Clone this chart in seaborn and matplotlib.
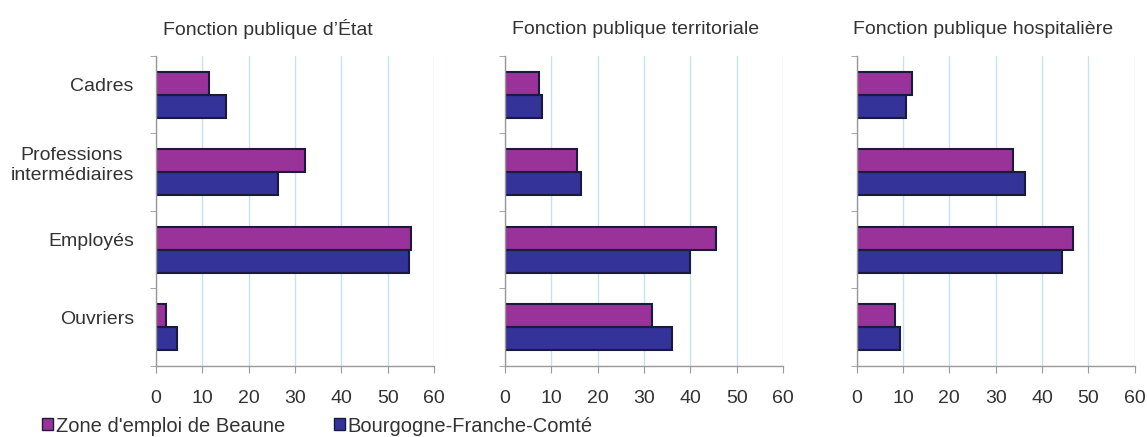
import matplotlib
matplotlib.use("Agg")
import matplotlib.pyplot as plt
from matplotlib.patches import Patch
from matplotlib.transforms import ScaledTranslation
import pandas as pd
import seaborn as sns

categories = ["Cadres", "Professions\nintermédiaires", "Employés", "Ouvriers"]
panels = ["Fonction publique d\u2019État", "Fonction publique territoriale",
          "Fonction publique hospitalière"]
series = ["Zone d'emploi de Beaune", "Bourgogne-Franche-Comté"]

# values in %, one list per panel: [Beaune], [BFC]
etat_beaune = [11.4, 32.1, 55.1, 2.1]
etat_bfc = [15.1, 26.3, 54.7, 4.6]
terr_beaune = [7.4, 15.6, 45.5, 31.8]
terr_bfc = [7.9, 16.3, 40.0, 36.1]
hosp_beaune = [11.9, 33.8, 46.7, 8.3]
hosp_bfc = [10.6, 36.3, 44.4, 9.4]

colors = ["#993399", "#333399"]
xticks = [0, 10, 20, 30, 40, 50, 60]

sns.set_style("white")
plt.rcParams["font.family"] = ["Liberation Sans", "DejaVu Sans"]

fig = plt.figure(figsize=(11.47, 4.37), dpi=100)

data = [(etat_beaune, etat_bfc), (terr_beaune, terr_bfc), (hosp_beaune, hosp_bfc)]
lefts = [0.136, 0.4403, 0.7469]
title_dx = [0.025, 0.025, -0.015]

for i, (title, (beaune, bfc)) in enumerate(zip(panels, data)):
    ax = fig.add_axes([lefts[i], 0.1625, 0.2424, 0.7094])
    df = pd.DataFrame({
        "cat": categories * 2,
        "val": beaune + bfc,
        "serie": [series[0]] * 4 + [series[1]] * 4,
    })
    sns.barplot(data=df, y="cat", x="val", hue="serie", order=categories,
                hue_order=series, palette=colors, saturation=1, orient="h",
                width=0.59, edgecolor="#1a1a3a", linewidth=1.5, ax=ax,
                legend=False)
    ax.set_xlim(0, 60)
    ax.set_ylim(3.5, -0.5)
    ax.set_xticks(xticks)
    ax.set_xticklabels([str(t) for t in xticks], fontsize=14, color="#333333")
    ax.xaxis.grid(True, color="#c8e3ec", linewidth=1)
    ax.set_axisbelow(True)
    ax.set_xlabel("")
    ax.set_ylabel("")
    for s in ["top", "right"]:
        ax.spines[s].set_visible(False)
    for s in ["left", "bottom"]:
        ax.spines[s].set_color("#999999")
        ax.spines[s].set_linewidth(1)
    ax.tick_params(axis="x", length=5, color="#999999", pad=12, bottom=True)
    ax.set_yticks([-0.5, 0.5, 1.5, 2.5, 3.5], minor=True)
    ax.tick_params(axis="y", which="minor", length=4, color="#999999", left=True)
    ax.tick_params(axis="y", which="major", length=0, pad=16)
    if i == 0:
        ax.set_yticks(range(4))
        ax.set_yticklabels(categories, fontsize=14, color="#333333",
                           multialignment="center")
        # labels sit a little above the middle of each group
        shift = ScaledTranslation(0, 0.10, fig.dpi_scale_trans)
        for lab in ax.get_yticklabels():
            lab.set_transform(lab.get_transform() + shift)
    else:
        ax.set_yticks([])
    ax.text(title_dx[i], 1.087, title, transform=ax.transAxes, fontsize=14,
            color="#333333", ha="left", va="center")

handles = [Patch(facecolor=c, edgecolor="#1a1a3a", linewidth=1) for c in colors]
fig.legend(handles, series, loc="center left",
           bbox_to_anchor=(42 / 1147, 1 - 426 / 437), borderaxespad=0,
           borderpad=0, ncol=2, frameon=False, fontsize=14.5,
           handlelength=0.55, handleheight=0.55, handletextpad=0.15,
           columnspacing=2.4, labelcolor="#333333")

fig.savefig("out.png", dpi=100)
